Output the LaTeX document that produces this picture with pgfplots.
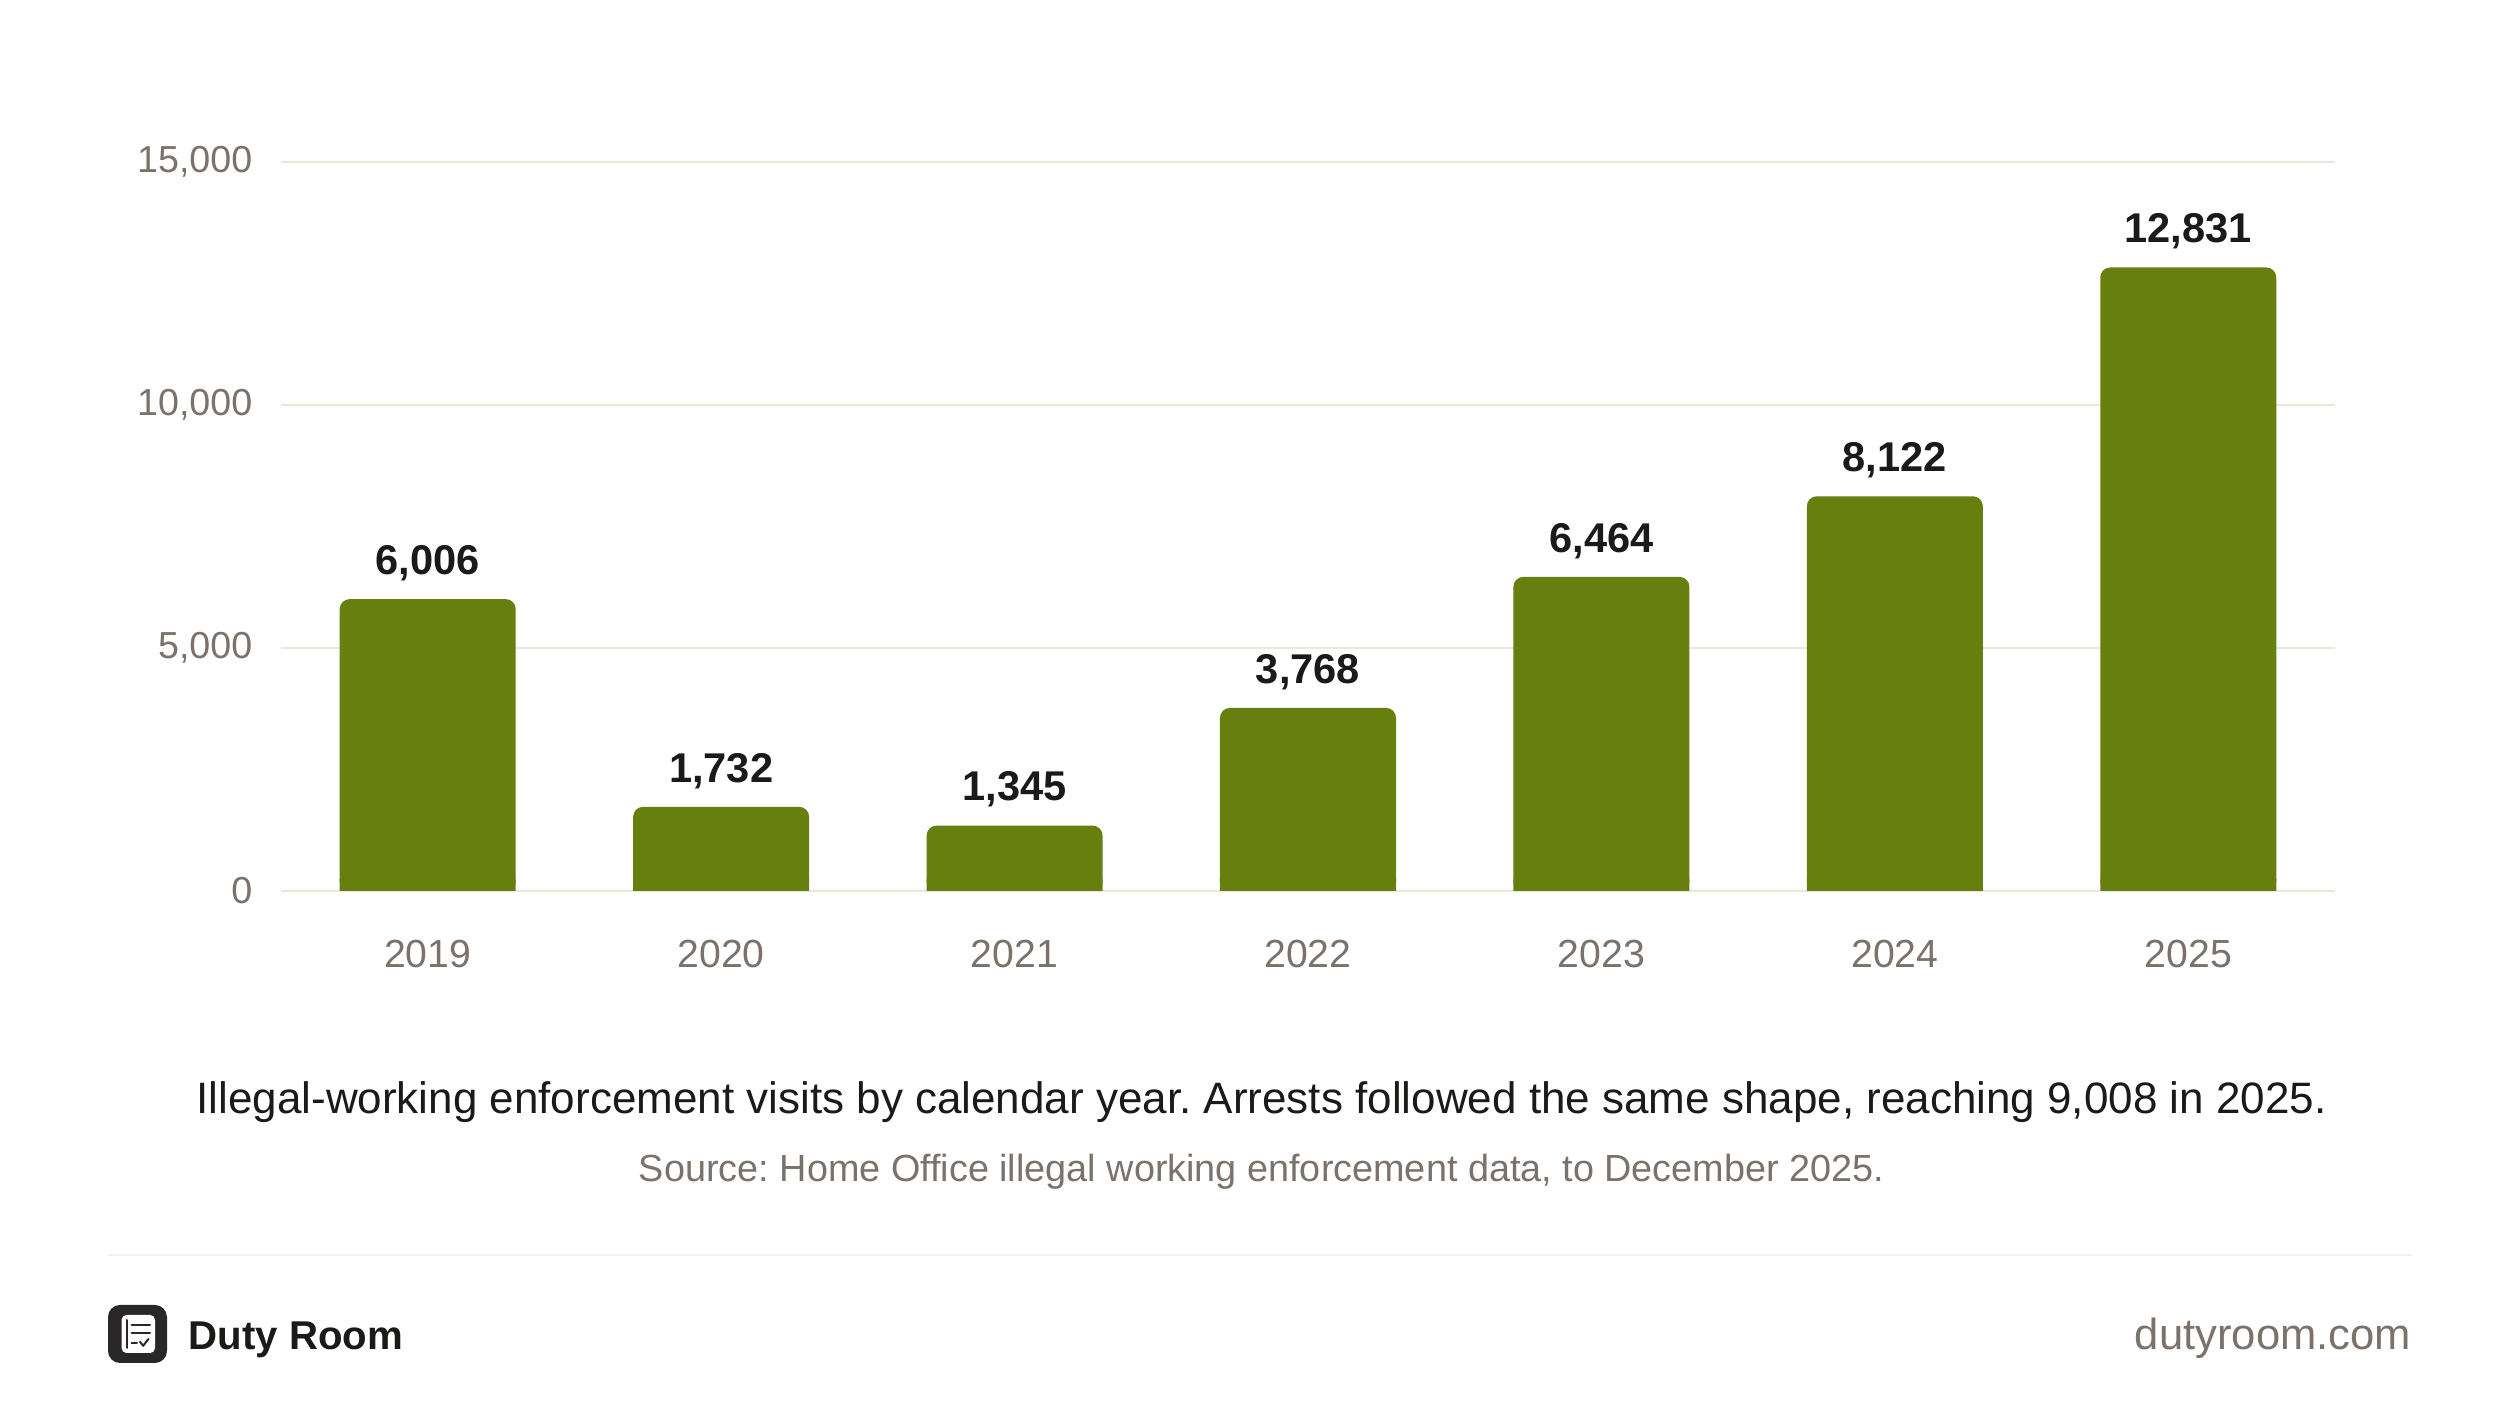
\documentclass[border=0pt]{standalone}
\usepackage{fontspec}
\setmainfont{Liberation Sans}
\usepackage{pgfplots}
\pgfplotsset{compat=1.18}
\usepackage{pgfplotstable}
\definecolor{bargreen}{HTML}{667F0E}
\definecolor{gridc}{HTML}{E9EADD}
\definecolor{tickc}{HTML}{7A726B}
\definecolor{textc}{HTML}{1C1A18}
\definecolor{sepc}{HTML}{F1F1EF}
\definecolor{logoc}{HTML}{2A2727}

\pgfplotstableread{
x year v
0 2019 6006
1 2020 1732
2 2021 1345
3 2022 3768
4 2023 6464
5 2024 8122
6 2025 12831
}\visits

\begin{document}
\frenchspacing
\begin{tikzpicture}[x=1pt,y=1pt]
\useasboundingbox (0,0) rectangle (630,356.25);
\begin{axis}[
  at={(70.25pt,133.5pt)}, anchor=south west,
  scale only axis, width=513.5pt, height=182.25pt,
  xmin=-0.5, xmax=6.5, ymin=0, ymax=15000,
  xtick={0,1,2,3,4,5,6},
  xticklabels={2019,2020,2021,2022,2023,2024,2025},
  ytick={0,5000,10000,15000},
  scaled y ticks=false,
  ymajorgrids, grid style={gridc, line width=0.7pt},
  axis line style={draw=none}, major tick length=0pt,
  tick style={draw=none},
  tick label style={font=\fontsize{9.4}{11}\selectfont, text=tickc},
  yticklabel style={anchor=east, inner sep=0pt, xshift=-7pt},
  xticklabel style={anchor=base, inner sep=0pt, yshift=-19.25pt, font=\fontsize{9.8}{11}\selectfont},
  /pgf/number format/assume math mode=true,
  /pgf/number format/1000 sep={,},
  clip=false,
]
\addplot[ybar, bar width=44pt, bar shift=0pt, fill=bargreen, draw=none, rounded corners=2.5pt,
  nodes near coords,
  every node near coord/.append style={font=\fontsize{10.4}{12}\selectfont\bfseries, text=textc, anchor=base, yshift=6.2pt}]
  table[x=x, y=v] {\visits};
\addplot[ybar, bar width=44pt, bar shift=0pt, fill=bargreen, draw=none, forget plot]
  table[x=x, y expr={min(\thisrow{v},250)}] {\visits};
\end{axis}
% caption and source
\node[anchor=base, font=\fontsize{11.0}{13}\selectfont, text=textc] at (315.4,77.75)
  {Illegal-working enforcement visits by calendar year. Arrests followed the same shape, reaching 9,008 in 2025.};
\node[anchor=base, font=\fontsize{9.45}{11}\selectfont, text=tickc] at (315.4,60.75)
  {Source: Home Office illegal working enforcement data, to December 2025.};
% separator
\draw[sepc, line width=0.5pt] (27,42.5) -- (603,42.5);
% footer
\node[anchor=base east, inner sep=0pt, font=\fontsize{10.9}{13}\selectfont, text=tickc] at (603,18.75) {dutyroom.com};
\node[anchor=base west, inner sep=0pt, font=\fontsize{10.05}{12}\selectfont\bfseries, text=textc] at (47,18.75) {Duty Room};
% logo
\fill[logoc, rounded corners=3pt] (27,15.5) rectangle (41.75,30);
\fill[white, rounded corners=1.2pt] (30.4,18) rectangle (38.75,27.5);
\draw[logoc, line width=0.5pt, line cap=round] (31.7,19.25) -- (31.7,26.25);
\draw[logoc, line width=0.5pt, line cap=round] (32.9,25) -- (37.5,25);
\draw[logoc, line width=0.5pt, line cap=round] (32.9,22.9) -- (37.5,22.9);
\draw[logoc, line width=0.5pt, line cap=round] (32.9,20.6) -- (34.25,20.6);
\draw[logoc, line width=0.5pt, line cap=round, line join=round] (35,20.8) -- (35.8,19.8) -- (37.1,21.5);
\end{tikzpicture}
\end{document}
